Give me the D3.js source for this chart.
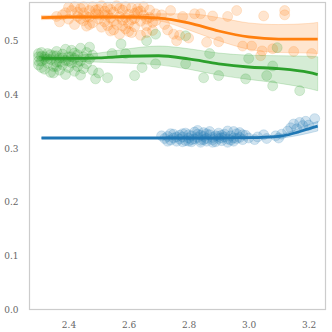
<!DOCTYPE html>
<html>
<head>
<meta charset="utf-8">
<script src="https://cdn.jsdelivr.net/npm/d3@7"></script>
<style>
  body { margin: 0; background: #fff; }
  svg text { font-family: 'DejaVu Serif', serif; }
</style>
</head>
<body>
<svg id="container" width="332" height="332"></svg>
<script>
// tick labels
const xTicks = [2.4, 2.6, 2.8, 3.0, 3.2]
const yTicks = [0.0, 0.1, 0.2, 0.3, 0.4, 0.5]

// smoothed fit + band, sampled on a shared grid
const curveX = [2.31, 2.4, 2.5, 2.6, 2.7, 2.8, 2.9, 3.0, 3.1, 3.2, 3.23]
const blueLine = [0.319, 0.319, 0.319, 0.319, 0.319, 0.319, 0.319, 0.3195, 0.322, 0.336, 0.341]
const blueLow = [0.318, 0.318, 0.318, 0.318, 0.318, 0.3182, 0.318, 0.318, 0.319, 0.328, 0.332]
const blueHigh = [0.320, 0.320, 0.320, 0.320, 0.320, 0.3198, 0.320, 0.321, 0.325, 0.344, 0.350]
const orangeLine = [0.543, 0.544, 0.544, 0.544, 0.542, 0.533, 0.518, 0.507, 0.503, 0.503, 0.503]
const orangeLow = [0.539, 0.541, 0.542, 0.541, 0.537, 0.520, 0.500, 0.484, 0.478, 0.477, 0.476]
const orangeHigh = [0.547, 0.547, 0.547, 0.547, 0.550, 0.550, 0.543, 0.533, 0.530, 0.532, 0.534]
const greenLine = [0.467, 0.467, 0.468, 0.471, 0.472, 0.466, 0.457, 0.451, 0.448, 0.441, 0.437]
const greenLow = [0.463, 0.462, 0.460, 0.458, 0.455, 0.447, 0.436, 0.428, 0.421, 0.411, 0.407]
const greenHigh = [0.471, 0.472, 0.477, 0.485, 0.490, 0.485, 0.477, 0.473, 0.472, 0.471, 0.470]

// scatter points [x, y]
const bluePts = [
  [2.72,0.318],[2.73,0.322],[2.74,0.315],[2.75,0.326],[2.75,0.319],[2.76,0.313],[2.77,0.324],[2.77,0.317],
  [2.78,0.321],[2.79,0.314],[2.79,0.328],[2.80,0.319],[2.81,0.323],[2.81,0.312],[2.82,0.317],[2.83,0.326],
  [2.83,0.320],[2.84,0.315],[2.85,0.322],[2.85,0.329],[2.86,0.318],[2.86,0.313],[2.87,0.325],[2.88,0.320],
  [2.88,0.316],[2.89,0.323],[2.90,0.318],[2.90,0.328],[2.91,0.314],[2.92,0.321],[2.92,0.326],[2.93,0.317],
  [2.94,0.323],[2.95,0.319],[2.95,0.313],[2.96,0.327],[2.97,0.320],[2.98,0.316],[2.99,0.324],[3.00,0.319],
  [2.76,0.321],[2.80,0.325],[2.84,0.311],[2.87,0.331],[2.91,0.324],[2.94,0.315],[2.97,0.329],[2.82,0.330],
  [2.78,0.312],[2.89,0.312],[2.74,0.327],[2.93,0.332],[2.71,0.323],[2.73,0.313],[2.78,0.327],[2.81,0.316],
  [2.84,0.324],[2.86,0.327],[2.88,0.311],[2.90,0.322],[2.93,0.311],[2.96,0.318],[2.98,0.325],[2.85,0.316],
  [2.80,0.313],[2.91,0.319],[2.83,0.333],[2.95,0.331],
  [3.03,0.321],[3.06,0.318],[3.09,0.323],[3.11,0.326],[3.13,0.332],[3.14,0.338],[3.15,0.345],[3.16,0.336],
  [3.17,0.348],[3.18,0.342],[3.19,0.350],[3.20,0.343],[3.22,0.355],[3.05,0.325],[3.10,0.319],[3.02,0.316]
]
const orangePts = [
  [2.37,0.535],[2.38,0.548],[2.40,0.540],[2.41,0.556],[2.42,0.530],[2.43,0.545],[2.44,0.560],[2.45,0.537],
  [2.45,0.552],[2.46,0.527],[2.47,0.544],[2.48,0.563],[2.48,0.533],[2.49,0.550],[2.50,0.540],[2.50,0.558],
  [2.51,0.525],[2.52,0.547],[2.52,0.535],[2.53,0.562],[2.54,0.518],[2.54,0.542],[2.55,0.553],[2.56,0.530],
  [2.56,0.565],[2.57,0.545],[2.57,0.512],[2.58,0.538],[2.58,0.557],[2.59,0.522],[2.60,0.549],[2.60,0.532],
  [2.61,0.561],[2.61,0.515],[2.62,0.541],[2.62,0.526],[2.63,0.554],[2.64,0.536],[2.64,0.510],[2.65,0.547],
  [2.65,0.563],[2.66,0.528],[2.67,0.543],[2.67,0.557],[2.68,0.519],[2.69,0.550],[2.69,0.537],[2.43,0.553],
  [2.47,0.530],[2.51,0.565],[2.55,0.536],[2.59,0.543],[2.63,0.560],[2.53,0.548],[2.49,0.557],[2.58,0.527],
  [2.62,0.551],[2.66,0.540],[2.40,0.562],[2.46,0.545],[2.39,0.552],[2.42,0.563],[2.44,0.541],[2.47,0.556],
  [2.50,0.548],[2.53,0.528],[2.55,0.520],[2.57,0.560],[2.60,0.517],[2.61,0.539],[2.64,0.555],[2.66,0.515],
  [2.68,0.534],[2.54,0.558],[2.52,0.555],[2.59,0.563],[2.45,0.563],[2.36,0.545],
  [2.71,0.548],[2.72,0.530],[2.74,0.556],[2.75,0.512],[2.76,0.500],[2.78,0.545],[2.80,0.505],[2.82,0.550],
  [2.84,0.550],[2.86,0.497],[2.88,0.546],[2.90,0.498],[2.93,0.545],[2.96,0.556],[2.98,0.490],[3.01,0.490],
  [3.04,0.472],[3.045,0.481],[3.05,0.546],[3.08,0.485],[3.12,0.556],[3.12,0.548],[3.15,0.480],[3.21,0.476],
  [2.73,0.520],[2.77,0.510]
]
const greenPts = [
  [2.30,0.470],[2.30,0.455],[2.31,0.478],[2.31,0.462],[2.32,0.447],[2.32,0.470],[2.33,0.458],[2.33,0.476],
  [2.34,0.441],[2.34,0.465],[2.35,0.452],[2.35,0.472],[2.36,0.480],[2.36,0.460],[2.37,0.445],[2.37,0.468],
  [2.38,0.455],[2.38,0.475],[2.39,0.437],[2.39,0.463],[2.40,0.470],[2.40,0.450],[2.41,0.482],[2.41,0.459],
  [2.42,0.443],[2.42,0.467],[2.43,0.474],[2.43,0.452],[2.44,0.462],[2.44,0.436],[2.45,0.470],[2.45,0.448],
  [2.46,0.478],[2.46,0.457],[2.47,0.466],[2.48,0.445],[2.48,0.473],[2.31,0.450],[2.35,0.440],[2.39,0.484],
  [2.44,0.486],[2.47,0.488],[2.32,0.466],[2.36,0.472],[2.40,0.462],[2.30,0.462],[2.31,0.471],[2.33,0.466],
  [2.34,0.474],[2.36,0.452],[2.38,0.468],[2.41,0.470],[2.42,0.477],[2.43,0.460],[2.37,0.460],[2.30,0.476],
  [2.49,0.429],[2.50,0.440],[2.53,0.431],[2.545,0.476],[2.575,0.494],[2.59,0.476],[2.62,0.435],[2.645,0.450],
  [2.66,0.500],[2.69,0.512],[2.69,0.457],[2.79,0.509],[2.79,0.457],[2.85,0.431],[2.87,0.476],[2.90,0.435],
  [2.99,0.429],[3.00,0.467],[3.06,0.435],[3.08,0.453],[3.08,0.416],[3.095,0.487],[3.17,0.407]
]

const svg = d3.select('#container')
const xScale = d3.scaleLinear().domain([2.27, 3.256]).range([29.5, 325.5])
const yScale = d3.scaleLinear().domain([0, 0.571]).range([309.5, 2.5])

const series = [
  { pts: bluePts, line: blueLine, low: blueLow, high: blueHigh, color: '#1f77b4' },
  { pts: orangePts, line: orangeLine, low: orangeLow, high: orangeHigh, color: '#ff7f0e' },
  { pts: greenPts, line: greenLine, low: greenLow, high: greenHigh, color: '#2ca02c' }
]

const area = d3.area()
  .x((d) => xScale(d.x))
  .y0((d) => yScale(d.lo))
  .y1((d) => yScale(d.hi))
  .curve(d3.curveMonotoneX)
const line = d3.line()
  .x((d) => xScale(d.x))
  .y((d) => yScale(d.y))
  .curve(d3.curveMonotoneX)

const plot = svg.append('g')

series.forEach((s) => {
  plot.append('g')
    .selectAll('circle')
    .data(s.pts)
    .enter()
    .append('circle')
    .attr('cx', (d) => xScale(d[0]))
    .attr('cy', (d) => yScale(d[1]))
    .attr('r', 5)
    .style('fill', s.color)
    .style('fill-opacity', 0.2)
    .style('stroke', s.color)
    .style('stroke-opacity', 0.2)
    .style('stroke-width', 0.8)

  const band = curveX.map((x, i) => ({ x: x, lo: s.low[i], hi: s.high[i] }))
  plot.append('path')
    .attr('d', area(band))
    .style('fill', s.color)
    .style('fill-opacity', 0.2)
    .style('stroke', s.color)
    .style('stroke-opacity', 0.2)
    .style('stroke-width', 1)

  const fit = curveX.map((x, i) => ({ x: x, y: s.line[i] }))
  plot.append('path')
    .attr('d', line(fit))
    .style('fill', 'none')
    .style('stroke', s.color)
    .style('stroke-width', 2.8)
})

// frame
svg.append('rect')
  .attr('x', xScale.range()[0])
  .attr('y', yScale.range()[1])
  .attr('width', xScale.range()[1] - xScale.range()[0])
  .attr('height', yScale.range()[0] - yScale.range()[1])
  .style('fill', 'none')
  .style('stroke', '#cccccc')
  .style('stroke-width', 1.2)

const xAxis = d3.axisBottom(xScale).tickValues(xTicks).tickFormat(d3.format('.1f')).tickSize(0).tickPadding(12)
const yAxis = d3.axisLeft(yScale).tickValues(yTicks).tickFormat(d3.format('.1f')).tickSize(0).tickPadding(11)

const gx = svg.append('g').attr('transform', 'translate(0,309.5)').call(xAxis)
const gy = svg.append('g').attr('transform', 'translate(29.5,0)').call(yAxis)
;[gx, gy].forEach((g) => {
  g.select('.domain').remove()
  g.selectAll('text')
    .style('font-family', "'DejaVu Serif', serif")
    .style('font-size', '9px')
    .style('fill', '#666')
})
</script>
</body>
</html>
